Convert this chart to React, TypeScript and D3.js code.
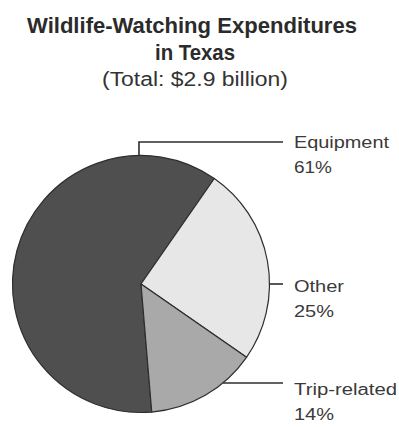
import React from "react";
import * as d3 from "d3";

// ---- data ----
const categories: string[] = ["Equipment", "Other", "Trip-related"];
const shares: number[] = [61, 25, 14];
const titleLines: string[] = ["Wildlife-Watching Expenditures", "in Texas"];
const subtitle = "(Total: $2.9 billion)";

// ---- styles / layout ----
const W = 399;
const H = 427;
const fills = ["#4f4f4f", "#e7e7e7", "#a9a9a9"];
const cx = 141;
const cy = 284;
const R = 128.5;
const startDeg = 175.2;
// leader layout: angle on rim (deg clockwise from top), elbow y (if any), label baseline
const leaderAngle = [-0.9, 90, 140.3];
const leaderY = [142, 284, 383];
const leaderEndX = 283;
const labelX = 294;
const labelY = [148, 292, 395];
const labelW = [95, 50, 103];
const pctW = [38, 40, 40];

export default function App() {
  const pie = d3
    .pie<number>()
    .sort(null)
    .value((d) => d)
    .startAngle((startDeg * Math.PI) / 180)
    .endAngle((startDeg * Math.PI) / 180 + 2 * Math.PI);
  const arcs = pie(shares);
  const arc = d3.arc<d3.PieArcDatum<number>>().innerRadius(0).outerRadius(R);

  const rim = (deg: number) => {
    const a = (deg * Math.PI) / 180;
    return [cx + R * Math.sin(a), cy - R * Math.cos(a)];
  };

  return (
    <svg
      width={W}
      height={H}
      style={{ position: "absolute", left: 0, top: 0, background: "#fff" }}
    >
      <text
        x={192}
        y={33}
        textAnchor="middle"
        fontFamily="Liberation Sans, Arial, sans-serif"
        fontWeight="bold"
        fontSize={22}
        fill="#2b2b2b"
        textLength={330}
        lengthAdjust="spacingAndGlyphs"
      >
        {titleLines[0]}
      </text>
      <text
        x={195}
        y={60}
        textAnchor="middle"
        fontFamily="Liberation Sans, Arial, sans-serif"
        fontWeight="bold"
        fontSize={22}
        fill="#2b2b2b"
        textLength={80}
        lengthAdjust="spacingAndGlyphs"
      >
        {titleLines[1]}
      </text>
      <text
        x={195}
        y={86}
        textAnchor="middle"
        fontFamily="Liberation Sans, Arial, sans-serif"
        fontSize={20}
        fill="#333"
        textLength={186}
        lengthAdjust="spacingAndGlyphs"
      >
        {subtitle}
      </text>

      <g transform={`translate(${cx},${cy})`}>
        {arcs.map((a, i) => (
          <path
            key={categories[i]}
            d={arc(a) || ""}
            fill={fills[i]}
            stroke="#2e2e2e"
            strokeWidth={1.2}
            strokeLinejoin="round"
          />
        ))}
      </g>

      {categories.map((c, i) => {
        const [px, py] = rim(leaderAngle[i]);
        const pts =
          Math.abs(py - leaderY[i]) > 2
            ? `${px},${py} ${px},${leaderY[i]} ${leaderEndX},${leaderY[i]}`
            : `${px},${leaderY[i]} ${leaderEndX},${leaderY[i]}`;
        return (
          <g key={c}>
            <polyline points={pts} fill="none" stroke="#2e2e2e" strokeWidth={1.6} />
            <text
              x={labelX}
              y={labelY[i]}
              fontFamily="Liberation Sans, Arial, sans-serif"
              fontSize={16}
              fill="#3a3a3a"
              textLength={labelW[i]}
              lengthAdjust="spacingAndGlyphs"
            >
              {c}
            </text>
            <text
              x={labelX}
              y={labelY[i] + 25}
              fontFamily="Liberation Sans, Arial, sans-serif"
              fontSize={16}
              fill="#3a3a3a"
              textLength={pctW[i]}
              lengthAdjust="spacingAndGlyphs"
            >
              {`${shares[i]}%`}
            </text>
          </g>
        );
      })}
    </svg>
  );
}
